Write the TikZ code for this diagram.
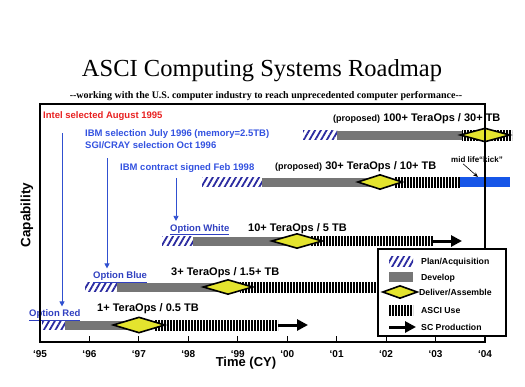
\documentclass[tikz,border=0pt]{standalone}
\usepackage{fontspec}
\setmainfont{Liberation Sans}
\newfontfamily\titlefont{Liberation Serif}
\usetikzlibrary{calc}
\usetikzlibrary{shapes.geometric}
\usetikzlibrary{arrows.meta,patterns.meta,positioning}

\definecolor{hatchblue}{HTML}{2A2AA0}
\definecolor{devgrey}{HTML}{767676}
\definecolor{delyellow}{HTML}{E4E42E}
\definecolor{kickblue}{HTML}{1656E8}
\definecolor{eventblue}{HTML}{3352E0}
\definecolor{optblue}{HTML}{3040C0}
\definecolor{intelred}{HTML}{E82020}
\definecolor{arrowblue}{HTML}{3050D0}

\tikzset{
  planbar/.style={pattern={Lines[angle=60,distance=5pt,line width=1.8pt]},pattern color=hatchblue},
  devbar/.style={fill=devgrey},
  asciuse/.style={pattern={Lines[angle=90,distance=3pt,line width=1.5pt]},pattern color=black},
  kickbar/.style={fill=kickblue},
  deliver/.style={diamond,draw=black,line width=1.6pt,fill=delyellow,inner sep=0pt,minimum width=50pt,minimum height=15pt},
  scprod/.style={line width=3pt,-{Triangle[length=11pt,width=11pt]}},
  selarrow/.style={draw=arrowblue,line width=0.8pt,-{Triangle[length=5pt,width=5pt]},shorten >=3pt},
  evtext/.style={anchor=base west,inner sep=0pt,font=\fontsize{9.5}{11}\selectfont\bfseries},
  rowlabel/.style={anchor=base west,inner sep=0pt,font=\fontsize{11}{13}\selectfont\bfseries},
  optlabel/.style={anchor=base west,inner sep=0pt,text=optblue,font=\fontsize{9.5}{11}\selectfont\bfseries},
  leglabel/.style={anchor=base west,inner sep=0pt,font=\fontsize{8.7}{10}\selectfont\bfseries},
  yearlabel/.style={anchor=base,inner sep=0pt,font=\fontsize{10}{12}\selectfont\bfseries}
}

\begin{document}
\begin{tikzpicture}[x=1pt,y=-1pt]

\useasboundingbox (0,0) rectangle (525,386);
\coordinate (LEFTCORNER) at (40,342);

% title
\node[anchor=base,inner sep=0pt,font=\titlefont\fontsize{24.5}{28}\selectfont] at (262,76) (title) {ASCI Computing Systems Roadmap};
\node[anchor=base,inner sep=0pt,font=\titlefont\fontsize{10}{12}\selectfont\bfseries] at (266,98) (subtitle) {-{}-working with the U.S. computer industry to reach unprecedented computer performance-{}-};

%%%%%%%%%%%%%%%%%%%
% row 1 : Option Red
\fill[planbar] (42,320.5) rectangle (65,329.5);
\fill[devbar] (65,320.5) rectangle (139,329.5);
\fill[asciuse] (155,320) rectangle (278,330);
\node[deliver,minimum width=52pt,minimum height=16pt] at (139,325) (DEL1) {};
\coordinate (SC1) at (278,325);
\draw[scprod] (SC1) -- ++(30,0);
\node[rowlabel] at (97,311) (row1) {1+ TeraOps / 0.5 TB};
\node[optlabel] at (29,316.5) (optred) {\underline{Option Red}};

% row 2 : Option Blue
\fill[planbar] (85,282.5) rectangle (117,291.5);
\fill[devbar] (117,282.5) rectangle (228,291.5);
\fill[asciuse] (240,282) rectangle (420,292);
\node[deliver] at (228,287) (DEL2) {};
\node[rowlabel] at (171,275) (row2) {3+ TeraOps / 1.5+ TB};
\node[optlabel] at (93,278.5) (optblue) {\underline{Option Blue}};

% row 3 : Option White
\fill[planbar] (162,236.5) rectangle (193,245.5);
\fill[devbar] (193,236.5) rectangle (297,245.5);
\fill[asciuse] (310,236) rectangle (433,246);
\node[deliver,minimum width=51pt] at (297,241) (DEL3) {};
\coordinate (SC3) at (433,241);
\draw[scprod] (SC3) -- ++(29,0);
\node[rowlabel] at (248,231) (row3) {10+ TeraOps / 5 TB};
\node[optlabel] at (170,231) (optwhite) {\underline{Option White}};

% row 4 : IBM contract
\fill[planbar] (202,177.5) rectangle (262,186.5);
\fill[devbar] (262,177.5) rectangle (380,186.5);
\fill[asciuse] (395,177) rectangle (460,187);
\fill[kickbar] (460,177) rectangle (510,187);
\node[deliver,minimum width=45pt] at (380,182) (DEL4) {};
\node[rowlabel] at (275,169) (row4) {{\fontsize{9}{11}\selectfont (proposed)} 30+ TeraOps / 10+ TB};
\node[anchor=base west,inner sep=0pt,font=\fontsize{8}{10}\selectfont\bfseries] at (451,162.5) (kick) {mid life“kick”};
\coordinate (KICKTIP) at (478,177);
\draw[line width=0.6pt,-{Stealth[length=5pt,width=4pt]}] ([xshift=12pt,yshift=-1pt]kick.south west) -- (KICKTIP);

% row 5 : 100+ TeraOps
\fill[planbar] (303,130.5) rectangle (337,139.5);
\fill[devbar] (337,130.5) rectangle (462,139.5);
\fill[asciuse] (462,130) rectangle (512,140);
\node[deliver,minimum height=14pt] at (485,135) (DEL5) {};
\node[rowlabel] at (333,121) (row5) {{\fontsize{9}{11}\selectfont (proposed)} 100+ TeraOps / 30+ TB};

%%%%%%%%%%%%%%%%%%%
% selections
\node[evtext,text=intelred] at (43,118) (intel) {Intel selected August 1995};
\node[evtext,text=eventblue] at (85,136.5) (ibmsel) {IBM selection July 1996 (memory=2.5TB)};
\node[evtext,text=eventblue] at (85,148.5) (sgisel) {SGI/CRAY selection Oct 1996};
\node[evtext,text=eventblue] at (120,170.5) (ibmcon) {IBM contract signed Feb 1998};

\coordinate (REDTOP) at (62,133);
\coordinate (BLUETOP) at (107,158);
\coordinate (WHITETOP) at (176,178);
\draw[selarrow] (REDTOP) -- (REDTOP |- optred.north);
\draw[selarrow] (BLUETOP) -- (BLUETOP |- optblue.north);
\draw[selarrow] (WHITETOP) -- (WHITETOP |- optwhite.north);

%%%%%%%%%%%%%%%%%%%
% draw x,y
\draw[line width=2pt] (LEFTCORNER) rectangle (485,104);
\foreach \n/\yr in {0/95,1/96,2/97,3/98,4/99,5/00,6/01,7/02,8/03,9/04} {
  \draw[line width=0.8pt] ($(LEFTCORNER)+(49.44*\n,0)$) -- ++(0,-6);
  \node[yearlabel] at ($(LEFTCORNER)+(49.44*\n,15)$) (year\n) {‘\yr};
}
\node[anchor=base,inner sep=0pt,font=\fontsize{13}{15}\selectfont\bfseries] at (246,366) (time) {Time (CY)};
\node[rotate=90,inner sep=0pt,font=\fontsize{13.5}{15}\selectfont\bfseries] at (27,215) (capab) {Capability};

%%%%%%%%%%%%%%%%%%%
% legend
\draw[line width=2pt,fill=white] (378,249) rectangle (506,336);
\fill[planbar] (389,256) rectangle (413,266);
\node[leglabel] at (421,264.5) (legplan) {Plan/Acquisition};
\fill[devbar] (389,272) rectangle (413,282);
\node[leglabel] at (421,280.5) (legdev) {Develop};
\node[deliver,minimum width=35pt,minimum height=13pt] at (400,292) (legdel) {};
\node[leglabel] at (419,295.5) (legdeliv) {Deliver/Assemble};
\fill[asciuse] (389,305) rectangle (413,315);
\node[leglabel] at (421,313.5) (legasci) {ASCI Use};
\coordinate (LEGSC) at (389,327);
\draw[scprod] (LEGSC) -- ++(27,0);
\node[leglabel] at (421,330.5) (legsc) {SC Production};

\end{tikzpicture}
\end{document}
